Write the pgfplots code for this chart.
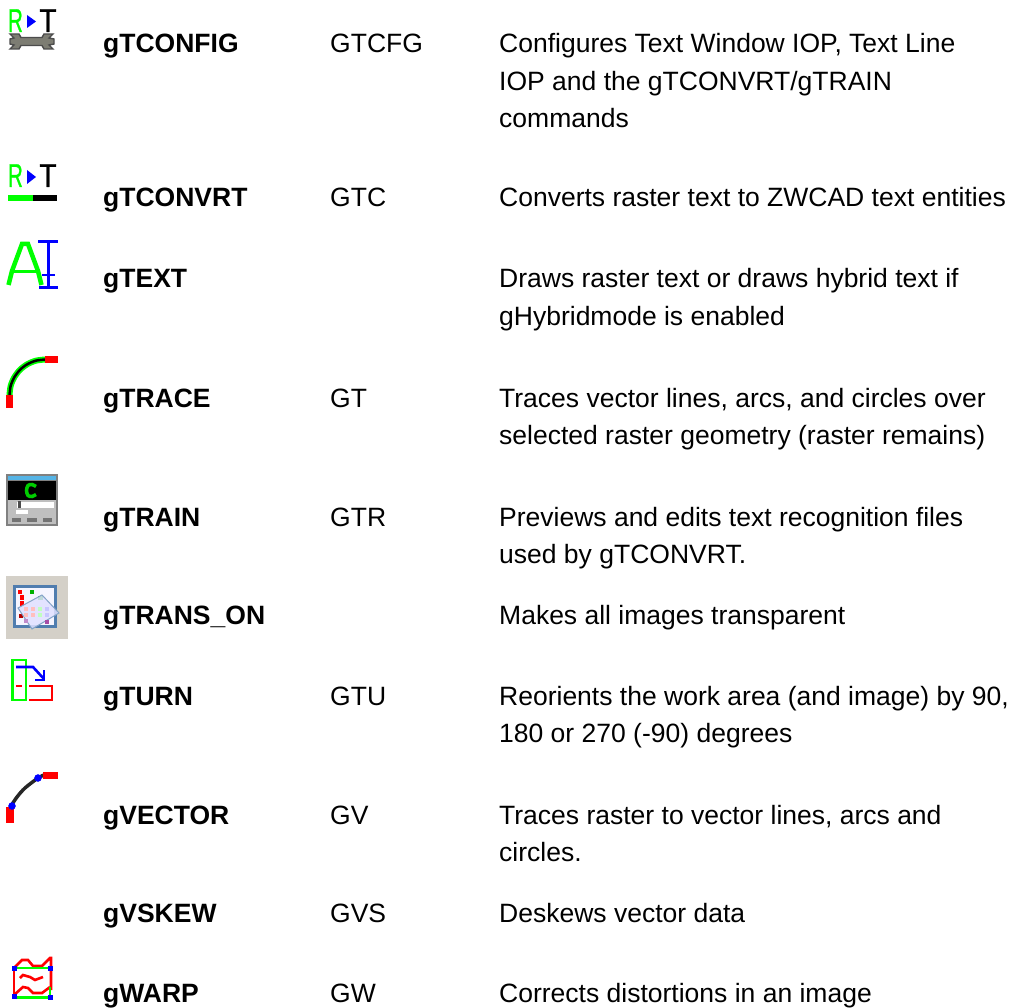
\documentclass[border=0pt]{standalone}
\usepackage{fontspec}
\setmainfont{Liberation Sans}
\newfontfamily\icf[FakeBold=1]{Liberation Sans}
\usepackage{pgfplots}
\pgfplotsset{compat=1.18}
\definecolor{rgreen}{RGB}{0,255,0}
\definecolor{rblue}{RGB}{0,0,255}
\definecolor{rred}{RGB}{255,0,0}
\definecolor{strip}{RGB}{85,180,230}
\definecolor{frameb}{RGB}{80,125,175}
\definecolor{bgg}{RGB}{212,208,200}
\definecolor{wr}{RGB}{125,125,115}
\newcommand\rect[5]{\addplot[fill=#1,draw=none] coordinates {(#2,#3) (#4,#3) (#4,#5) (#2,#5)};}
\newcommand\tl[2]{\node[anchor=base west,inner sep=0pt,font=\fontsize{26.5}{30}\selectfont] at (axis cs:#1,#2)}
\begin{document}
\begin{tikzpicture}
\begin{axis}[
  name=page,
  scale only axis, width=1018pt, height=1008pt,
  xmin=0, xmax=1018, ymin=0, ymax=1008, y dir=reverse,
  hide axis, clip=false]
\rect{white}{0}{0}{1018}{1008}
% ---- icon 1
\node[anchor=base,inner sep=0pt,text=rgreen,font=\icf\fontsize{33}{33}\selectfont,xscale=.62] at (axis cs:15.5,32) {R};
\node[anchor=base,inner sep=0pt,text=black,font=\icf\fontsize{33}{33}\selectfont,xscale=.85] at (axis cs:48,32) {T};
\addplot[fill=rblue,draw=none] coordinates {(27,15) (36,21.5) (27,28)};
\addplot[fill=wr,draw=black!70,line width=1.4pt] coordinates {(10,34) (19,34) (21,37.5) (42,37.5) (44,34) (53,34) (49,38) (54,39) (54,44) (49,45) (53,49) (44,49) (42,45.5) (21,45.5) (19,49) (10,49) (14,45) (10,44) (10,39) (14,38)} --cycle;
% ---- icon 2
\node[anchor=base,inner sep=0pt,text=rgreen,font=\icf\fontsize{33}{33}\selectfont,xscale=.62] at (axis cs:15.5,187) {R};
\node[anchor=base,inner sep=0pt,text=black,font=\icf\fontsize{33}{33}\selectfont,xscale=.85] at (axis cs:48,187) {T};
\addplot[fill=rblue,draw=none] coordinates {(27,170) (36,177) (27,184)};
\rect{rgreen}{8}{195}{33}{201}
\rect{black}{33}{195}{57}{201}
% ---- icon 3
\addplot[rgreen,line width=4.5pt] coordinates {(8.5,285) (12,271) (22,244) (28,244) (38,271) (41.5,285)};
\addplot[rgreen,line width=3.5pt] coordinates {(12,271.5) (36,271.5)};
\addplot[rblue,line width=3pt] coordinates {(38,241.5) (58,241.5)};
\addplot[rblue,line width=3pt] coordinates {(39,288) (58,288)};
\addplot[rblue,line width=3pt] coordinates {(48,241.5) (48,288)};
\addplot[rblue,line width=2.5pt] coordinates {(42,275) (55,275)};
% ---- icon 4
\addplot[rgreen,line width=6pt,smooth] coordinates {(9.5,395) (10.7,385.8) (14.3,377.3) (19.9,369.9) (27.2,364.3) (35.8,360.7) (45,359.5)};
\addplot[black,line width=2.5pt,smooth] coordinates {(9.5,395) (10.7,385.8) (14.3,377.3) (19.9,369.9) (27.2,364.3) (35.8,360.7) (45,359.5)};
\rect{rred}{6}{395}{13}{408}
\rect{rred}{45}{356}{58}{363}
% ---- icon 5
\rect{black!50}{6}{474}{58}{526}
\rect{black!25}{8}{500}{56}{524}
\rect{strip}{8}{476}{56}{480}
\rect{black}{8}{481}{56}{500}
\addplot[rgreen!80!black,line width=3.5pt,smooth] coordinates {(36,486.5) (32,484.5) (28,485.5) (26.5,490.5) (28,495.5) (32,496.5) (36,494.5)};
\rect{white}{17}{502}{54}{508}
\rect{black!70}{18}{501}{21}{508}
\rect{white}{16}{510}{28}{514}
\rect{black!55}{12}{518}{21}{522}
\rect{black!55}{27}{518}{37}{522}
\rect{black!55}{43}{518}{52}{522}
% ---- icon 6
\rect{bgg}{6}{576}{68}{639}
\rect{frameb}{13}{585}{57}{628}
\rect{blue!4!white}{16}{588}{54}{625}
\rect{rred}{18}{590}{22}{594}
\rect{rred}{20}{595}{24}{600}
\rect{rred}{20}{601}{24}{606}
\rect{rred!70!black}{19}{614}{23}{618}
\rect{green!70!black}{30}{590}{34}{594}
\rect{green!70!black}{38}{596}{43}{600}
\addplot[fill=blue!12!white,draw=frameb!70!white,line width=1pt,fill opacity=.85] coordinates {(18,608) (42,595) (59,613) (32,629)} --cycle;
\rect{rred!25!white}{24}{607}{28}{611}
\rect{rred!25!white}{24}{613}{28}{617}
\rect{rred!25!white}{31}{607}{35}{611}
\rect{rred!25!white}{31}{613}{35}{617}
\rect{green!25!white}{38}{607}{42}{611}
\rect{green!25!white}{38}{613}{42}{617}
\rect{blue!22!white}{45}{607}{49}{611}
\rect{blue!22!white}{45}{613}{49}{617}
\rect{rred!45!blue!45!white}{24}{619}{28}{623}
\rect{violet!70!white}{45}{620}{49}{624}
% ---- icon 7
\addplot[rgreen,line width=2.6pt] coordinates {(12.5,660) (26,660) (26,700) (12.5,700)} --cycle;
\addplot[rblue,line width=2.6pt] coordinates {(16,667) (33,667) (44,679)};
\addplot[rblue,line width=2.6pt] coordinates {(44,670) (44,680) (35,680)};
\addplot[rred,line width=2.6pt] coordinates {(16,686) (22,686)};
\addplot[rred,line width=2.6pt] coordinates {(29,686) (52,686) (52,700) (29,700)};
% ---- icon 8
\addplot[black!85,line width=3.5pt,smooth] coordinates {(11,806) (17,797) (25,788) (38,778) (44,775)};
\rect{rred}{6}{807}{14}{823}
\rect{rred}{43}{772}{58}{779}
\addplot[only marks,color=rblue,mark=*,mark size=3.5pt,mark options={fill=rblue,draw=none}] coordinates {(12,806) (38,778)};
% ---- icon 10
\addplot[rred,line width=2.6pt] coordinates {(14,968) (22,960) (28,960) (33,966) (42,966) (50,958) (51,958) (51,990)};
\addplot[rred,line width=2.6pt] coordinates {(14,968) (14,997)};
\addplot[rred,line width=2.6pt] coordinates {(20,978) (23,975) (30,977) (35,980) (43,977)};
\addplot[rred,line width=2.6pt] coordinates {(14,995) (23,987) (28,988) (33,993) (42,993) (50,987)};
\addplot[rgreen,line width=2.6pt] coordinates {(14,968) (50,968)};
\addplot[rgreen,line width=3pt] coordinates {(14,997) (50,997)};
\addplot[rgreen,line width=2.6pt] coordinates {(50,987) (50,997)};
\addplot[only marks,color=rblue,mark=square*,mark size=2pt,mark options={fill=rblue,draw=none}] coordinates {(14,968) (50,968) (14,996) (50,997)};
% ---- text
\tl{103}{53} {\textbf{gTCONFIG}};
\tl{330}{53} {GTCFG};
\tl{499}{53} {Configures Text Window IOP, Text Line};
\tl{499}{90.5} {IOP and the gTCONVRT/gTRAIN};
\tl{499}{128} {commands};
\tl{103}{207} {\textbf{gTCONVRT}};
\tl{330}{207} {GTC};
\tl{499}{207} {Converts raster text to ZWCAD text entities};
\tl{103}{288} {\textbf{gTEXT}};
\tl{499}{288} {Draws raster text or draws hybrid text if};
\tl{499}{325.5} {gHybridmode is enabled};
\tl{103}{407} {\textbf{gTRACE}};
\tl{330}{407} {GT};
\tl{499}{407} {Traces vector lines, arcs, and circles over};
\tl{499}{444.5} {selected raster geometry (raster remains)};
\tl{103}{526} {\textbf{gTRAIN}};
\tl{330}{526} {GTR};
\tl{499}{526} {Previews and edits text recognition files};
\tl{499}{563.5} {used by gTCONVRT.};
\tl{103}{624} {\textbf{gTRANS\_ON}};
\tl{499}{624} {Makes all images transparent};
\tl{103}{705} {\textbf{gTURN}};
\tl{330}{705} {GTU};
\tl{499}{705} {Reorients the work area (and image) by 90,};
\tl{499}{742.5} {180 or 270 (-90) degrees};
\tl{103}{824} {\textbf{gVECTOR}};
\tl{330}{824} {GV};
\tl{499}{824} {Traces raster to vector lines, arcs and};
\tl{499}{861.5} {circles.};
\tl{103}{922} {\textbf{gVSKEW}};
\tl{330}{922} {GVS};
\tl{499}{922} {Deskews vector data};
\tl{103}{1002.5} {\textbf{gWARP}};
\tl{330}{1002.5} {GW};
\tl{499}{1002.5} {Corrects distortions in an image};
\end{axis}
\pgfresetboundingbox
\useasboundingbox (page.south west) rectangle (page.north east);
\end{tikzpicture}
\end{document}
